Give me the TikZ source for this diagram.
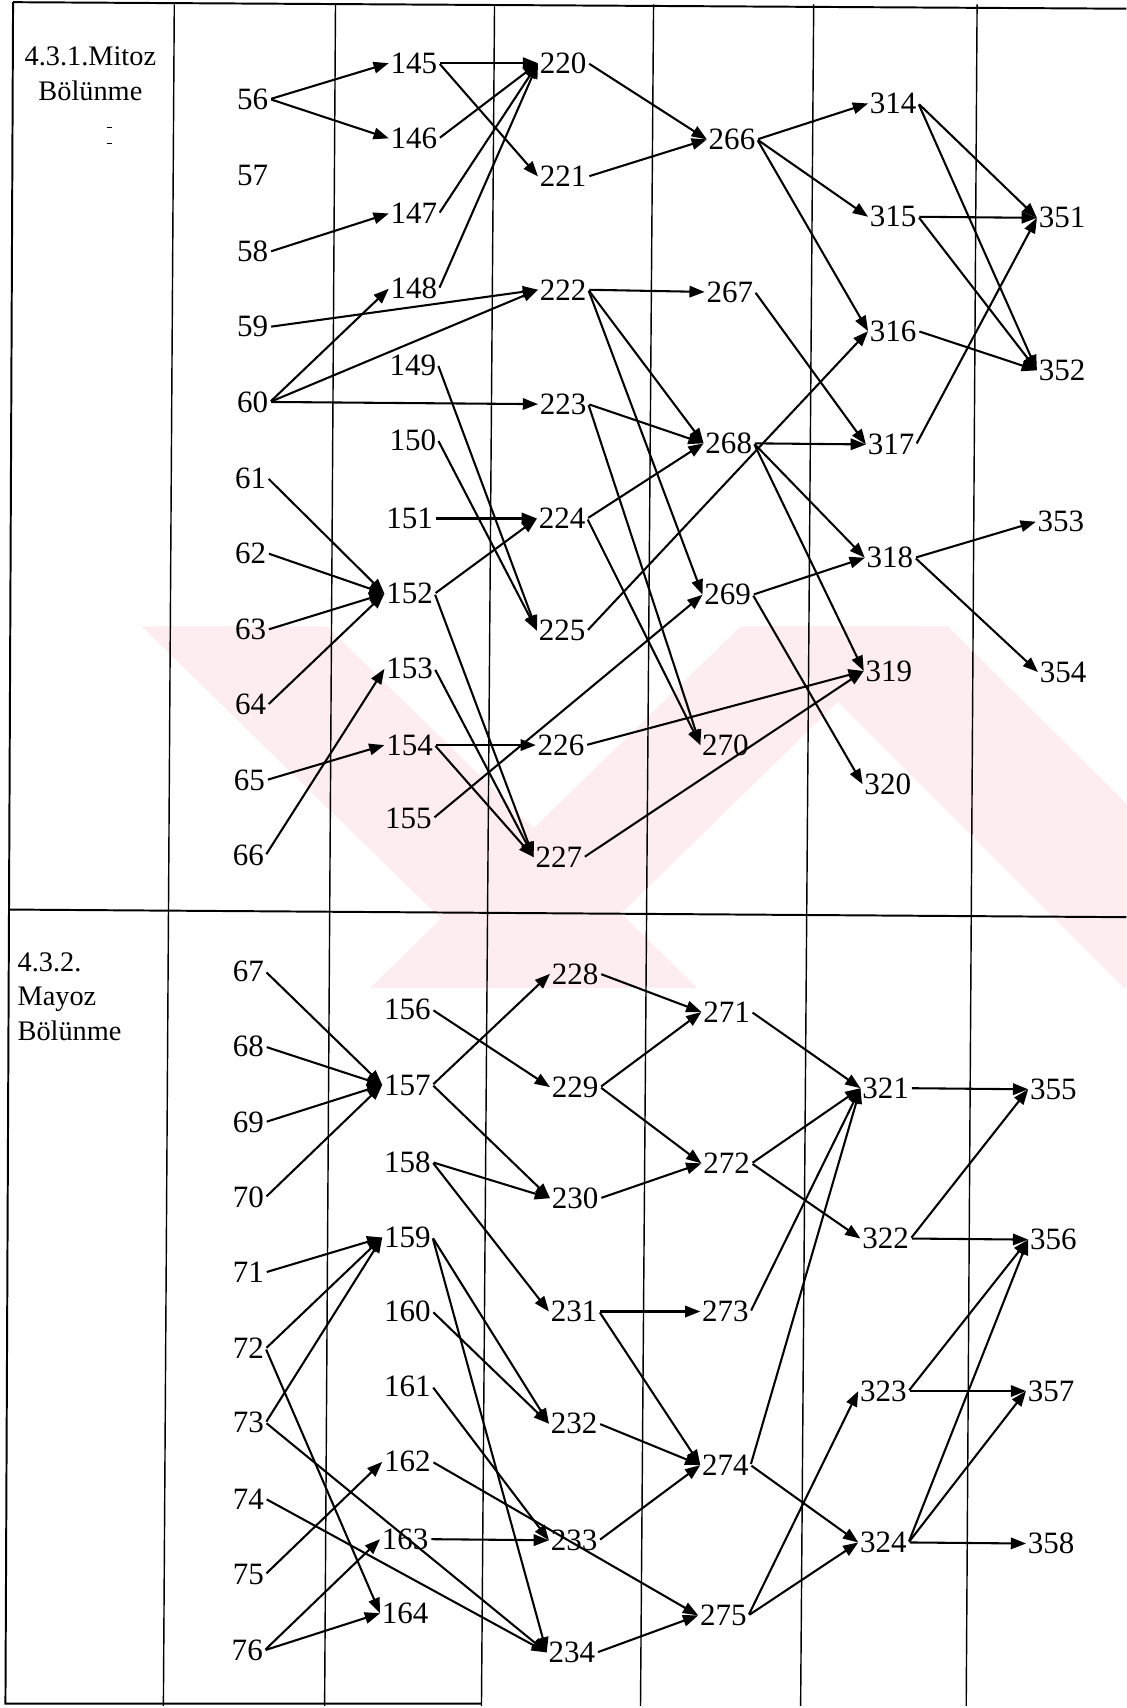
\documentclass[tikz,border=0pt]{standalone}
\usepackage{fontspec}
\setmainfont{Liberation Serif}
\usetikzlibrary{arrows.meta}
\definecolor{wm}{RGB}{253,236,240}
\begin{document}
\begin{tikzpicture}[x=1pt,y=-1pt,
  num/.style={font=\fontsize{28.5}{30}\selectfont, inner sep=1.5pt},
  head/.style={font=\fontsize{26}{32}\selectfont, inner sep=0pt},
  arr/.style={line width=1.9pt, -{Triangle[length=14pt,width=10.5pt]}, shorten <=1pt},
  gridline/.style={line width=1.3pt},
  wmark/.style={fill=wm, draw=none}
]
\useasboundingbox (0,0) rectangle (1034,1568);
\fill[white] (0,0) rectangle (1034,1568);
% watermark (approximate)
\fill[wmark] (130,575) -- (300,575) -- (640,907) -- (470,907) -- cycle;
\fill[wmark] (340,907) -- (500,907) -- (840,575) -- (680,575) -- cycle;
\fill[wmark] (700,575) -- (870,575) -- (1034,738) -- (1034,907) -- (1032,907) -- cycle;
% grid
\draw[line width=1.8pt] (12,2) -- (1034,8);
\draw[line width=1.8pt] (12,2) -- (5,1564) -- (442,1564);
\draw[line width=1.8pt] (9,835) -- (1034,842);
\foreach \xt/\xb in {160/150,308/298,454/442,600/588,747/735,897/887}
  \draw[gridline] (\xt,4) -- (\xb,1566);
% headings
\node[head, align=center] (h1) at (83,68) {4.3.1.Mitoz\\Bölünme};
\node[head, align=left, anchor=north west] (h2) at (16,874) {4.3.2.\\Mayoz\\Bölünme};
\draw[line width=0.8pt] (98,117) -- (103,117);
\draw[line width=0.8pt] (98,132) -- (103,132);
% number nodes
\foreach \n/\x/\y in {56/232/91,57/232/161,58/232/231,59/232/300,60/232/369,61/230/439,62/230/508,63/230/578,64/230/647,65/229/716,66/228/785,
  67/228/892,68/228/961,69/228/1030,70/228/1099,71/228/1168,72/228/1238,73/228/1306,74/228/1376,75/228/1445,76/227/1515,
  145/380/58,146/380/127,147/380/196,148/380/265,149/379/335,150/379/404,151/376/476,152/376/545,153/376/614,154/376/684,155/375/751,
  156/374/927,157/374/996,158/374/1067,159/374/1136,160/374/1204,161/374/1273,162/374/1342,163/372/1413,164/372/1481,
  220/517/58,221/517/162,222/517/266,223/517/371,224/516/476,225/516/579,226/515/684,227/513/787,
  228/528/894,229/528/998,230/528/1100,231/527/1204,232/527/1307,233/527/1414,234/525/1517,
  266/672/128,267/670/268,268/669/407,269/668/546,270/666/684,
  271/667/929,272/667/1068,273/666/1204,274/666/1345,275/664/1483,
  314/820/95,315/820/199,316/820/304,317/818/408,318/817/512,319/816/616,320/815/720,
  321/813/999,322/813/1137,323/811/1277,324/811/1416,
  351/975/200,352/975/340,353/974/479,354/976/617,
  355/967/1000,356/967/1138,357/965/1277,358/965/1417}
  \node[num] (n\n) at (\x,\y) {\n};
% connectors
\foreach \a/\b in {56/145,56/146,58/147,59/222,60/148,60/222,60/223,
  61/152,62/152,63/152,64/152,65/154,66/153,
  145/220,145/221,146/220,147/220,148/220,
  149/225,150/225,151/224,152/224,152/227,153/227,154/226,154/227,155/269,
  220/266,221/266,222/267,222/268,222/269,223/268,223/270,224/268,224/270,225/316,226/319,227/319,
  266/314,266/315,266/316,267/317,268/317,268/318,268/319,269/318,269/320,
  314/351,314/352,315/351,315/352,316/352,317/351,318/353,318/354,
  67/157,68/157,69/157,70/157,71/159,72/159,73/159,72/164,73/234,74/234,75/162,76/163,76/164,
  156/229,157/228,157/230,158/230,158/231,159/232,159/234,160/232,161/233,162/275,163/233,
  228/271,229/271,229/272,230/272,231/273,231/274,232/274,233/274,234/275,
  271/321,272/321,272/322,273/321,274/321,274/324,275/323,275/324,
  321/355,322/355,322/356,323/356,323/357,324/356,324/357,324/358}
  \draw[arr] (n\a.east) -- (n\b.west);
\end{tikzpicture}
\end{document}
